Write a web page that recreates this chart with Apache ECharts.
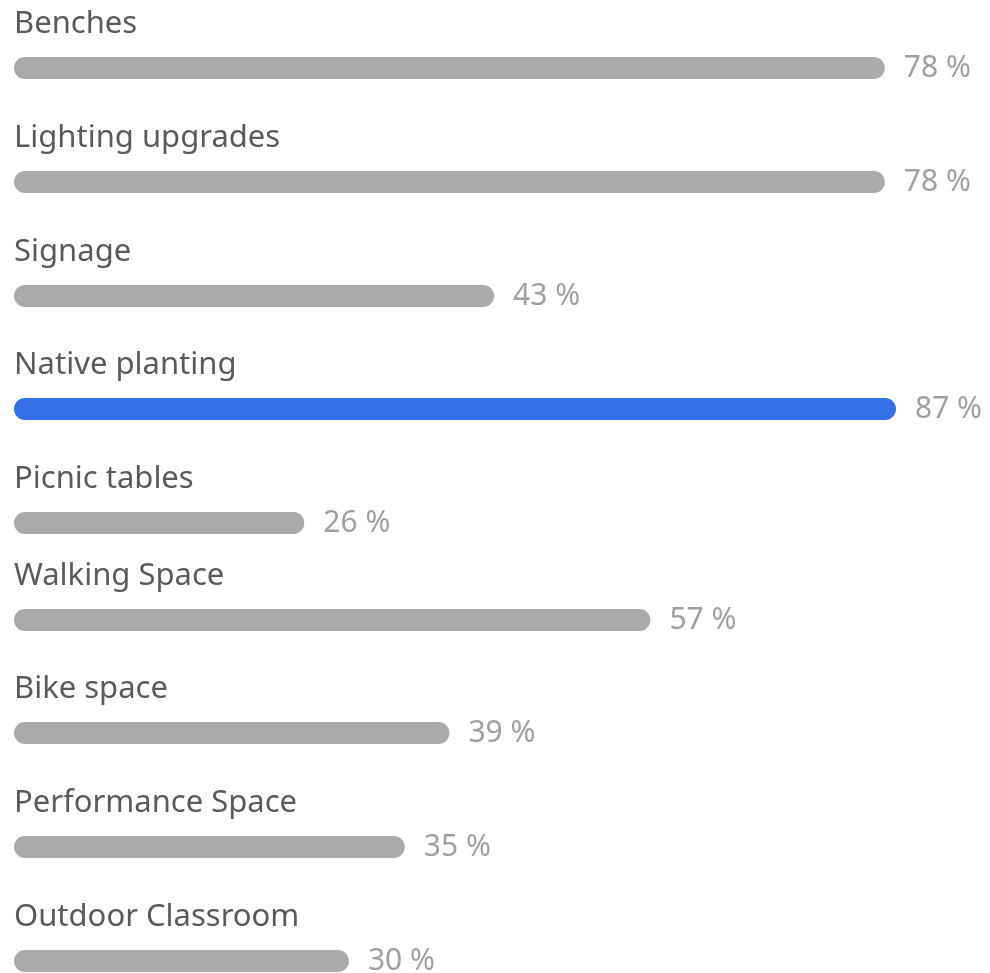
<!DOCTYPE html>
<html>
<head>
	<meta charset="utf-8">
	<title>Amenity preferences</title>
	<script src="https://cdn.jsdelivr.net/npm/echarts@6/dist/echarts.min.js"></script>
	<style>
		html, body { margin: 0; padding: 0; background: #fff; }
		#chart { width: 990px; height: 973px; }
	</style>
</head>
<body>
<div id="chart"></div>
<script>
// categories and answer shares (percent), top to bottom
var categories = ['Benches', 'Lighting upgrades', 'Signage', 'Native planting', 'Picnic tables',
	'Walking Space', 'Bike space', 'Performance Space', 'Outdoor Classroom'];
var shares = [78, 78, 43, 87, 26, 57, 39, 35, 30];
var highlighted = 'Native planting';

// layout: vertical centre of each bar (px); rows are not evenly spaced in the original
var rowCenters = [68, 182, 296, 409, 523, 620, 733, 847, 961];

var grids = [], xAxes = [], yAxes = [], series = [];

categories.forEach(function (cat, i) {
	grids.push({ left: 14, right: 94, top: rowCenters[i] - 11, height: 22, containLabel: false });
	// axis end at 79: the longest bar gets clipped to the track end like in the source
	xAxes.push({ gridIndex: i, type: 'value', min: 0, max: 79, show: false });
	yAxes.push({
		gridIndex: i,
		type: 'category',
		data: [cat],
		axisLine: { show: false },
		axisTick: { show: false },
		axisLabel: { show: false },
		splitLine: { show: false },
		name: cat,
		nameLocation: 'end',
		nameGap: 33,
		nameTextStyle: {
			fontFamily: 'Noto Sans',
			fontSize: 31,
			color: '#5a5a5a',
			align: 'left',
			verticalAlign: 'middle'
		}
	});
	series.push({
		type: 'bar',
		xAxisIndex: i,
		yAxisIndex: i,
		barWidth: 22,
		clip: true,
		silent: true,
		data: [shares[i]],
		itemStyle: {
			color: cat === highlighted ? '#3471e8' : '#aaaaaa',
			borderRadius: 11
		},
		label: {
			show: true,
			position: 'right',
			distance: 19,
			fontFamily: 'Noto Sans',
			fontSize: 30,
			color: '#a0a0a0',
			formatter: function (p) { return p.value + ' %'; }
		}
	});
});

var chart = echarts.init(document.getElementById('chart'));
chart.setOption({
	backgroundColor: '#ffffff',
	animation: false,
	grid: grids,
	xAxis: xAxes,
	yAxis: yAxes,
	series: series
});
</script>
</body>
</html>
